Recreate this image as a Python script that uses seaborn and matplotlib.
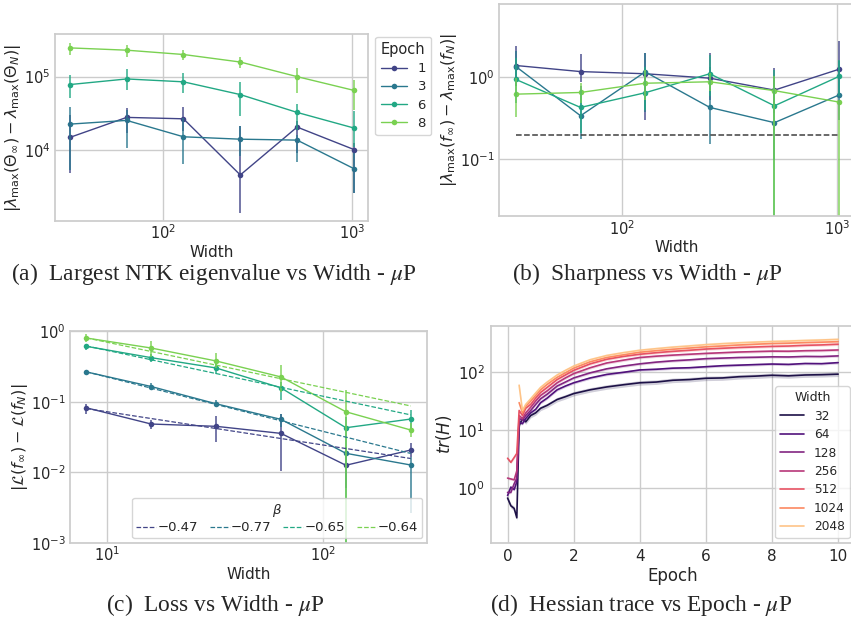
import numpy as np
import pandas as pd
import seaborn as sns
import matplotlib.pyplot as plt

# (a) |lambda_max(Theta_inf) - lambda_max(Theta_N)| vs width, one row per epoch
widths_a = [32, 64, 128, 256, 512, 1024]
epochs_a = ["1", "3", "6", "8"]
ntk_mean = [
    [1.49e4, 2.79e4, 2.67e4, 4.6e3, 2.06e4, 1.02e4],
    [2.26e4, 2.54e4, 1.52e4, 1.41e4, 1.37e4, 5.6e3],
    [7.8e4, 9.3e4, 8.5e4, 5.7e4, 3.26e4, 2.0e4],
    [2.46e5, 2.29e5, 2.0e5, 1.58e5, 1.0e5, 6.5e4],
]
ntk_lo = [
    [4.95e3, 1.71e4, 1.8e4, 1.41e3, 9.1e3, 2.6e3],
    [5.4e3, 1.06e4, 6.5e3, 8.2e3, 7.0e3, 2.65e3],
    [5.1e4, 6.5e4, 5.9e4, 2.94e4, 1.9e4, 1.12e4],
    [2.0e5, 1.85e5, 1.67e5, 1.31e5, 6.0e4, 3.55e4],
]
ntk_hi = [
    [3.03e4, 3.74e4, 3.86e4, 2.15e4, 2.46e4, 1.25e4],
    [3.9e4, 3.55e4, 2.73e4, 2.15e4, 1.62e4, 9.1e3],
    [1.06e5, 1.28e5, 1.12e5, 8.55e4, 4.3e4, 3.4e4],
    [2.88e5, 2.73e5, 2.33e5, 1.85e5, 1.31e5, 9.1e4],
]

# (b) sharpness gap vs width
sharp_mean = [
    [1.40, 1.18, 1.11, 0.98, 0.70, 1.26],
    [1.36, 0.34, 1.17, 0.43, 0.28, 0.61],
    [0.945, 0.43, 0.65, 1.11, 0.45, 1.03],
    [0.625, 0.655, 0.85, 0.885, 0.69, 0.50],
]
sharp_lo = [
    [0.776, 0.87, 0.30, 0.53, 0.366, 0.585],
    [0.776, 0.176, 0.38, 0.154, 0.098, 0.30],
    [0.485, 0.21, 0.40, 0.585, 0.001, 0.585],
    [0.33, 0.485, 0.53, 0.675, 0.001, 0.001],
]
sharp_hi = [
    [2.4, 1.95, 1.99, 1.99, 1.3, 2.76],
    [2.08, 0.776, 1.99, 1.36, 0.94, 1.57],
    [1.72, 0.71, 1.36, 1.9, 1.24, 1.65],
    [0.98, 0.85, 1.24, 1.13, 1.03, 0.53],
]
sharp_ref = 0.2

# (c) loss gap vs width, plus power-law fits
widths_c = [8, 16, 32, 64, 128, 256]
loss_mean = [
    [0.082, 0.0483, 0.0448, 0.0356, 0.0126, 0.0207],
    [0.264, 0.164, 0.0934, 0.0562, 0.0186, 0.0127],
    [0.608, 0.42, 0.30, 0.157, 0.0428, 0.0568],
    [0.797, 0.575, 0.377, 0.224, 0.072, 0.0397],
]
loss_lo = [
    [0.068, 0.0406, 0.0269, 0.0103, 0.006, 0.0167],
    [0.245, 0.149, 0.083, 0.0443, 0.0135, 0.00265],
    [0.545, 0.366, 0.25, 0.105, 0.0001, 0.042],
    [0.70, 0.43, 0.304, 0.138, 0.0001, 0.032],
]
loss_hi = [
    [0.094, 0.055, 0.0626, 0.068, 0.02, 0.0258],
    [0.285, 0.181, 0.105, 0.068, 0.023, 0.0167],
    [0.663, 0.48, 0.346, 0.19, 0.0612, 0.076],
    [0.917, 0.715, 0.49, 0.328, 0.146, 0.0493],
]
fit_labels = ["\u22120.47", "\u22120.77", "\u22120.65", "\u22120.64"]
fit_start = [0.080, 0.265, 0.615, 0.80]
fit_end = [0.0157, 0.0185, 0.065, 0.087]

# (d) Hessian trace vs epoch, one row per width
hess_widths = ["32", "64", "128", "256", "512", "1024", "2048"]
hess_epochs = [0, 0.1, 0.2, 0.28, 0.35, 0.45, 0.55, 0.7, 0.85, 1.0, 1.2, 1.5, 1.75, 2,
               2.5, 3, 3.5, 4, 4.5, 5, 5.5, 6, 6.5, 7, 7.5, 8, 8.5, 9, 9.5, 10]
nan = np.nan
hess_trace = [
    [0.68, 0.5, 0.45, 0.31, 12, 16, 14, 18, 20, 24, 27, 34, 38, 43, 50, 56, 61, 66, 68,
     73, 75, 79, 80, 84, 86, 89, 87, 90, 91, 93],
    [0.75, 1.05, 0.95, 1.3, 14, 13, 16, 20, 23, 30, 36, 50, 58, 66, 80, 92, 100, 110, 113,
     118, 120, 125, 130, 133, 136, 139, 137, 142, 141, 147],
    [0.85, 0.85, 1.2, 1.5, 16, 15, 18, 22, 28, 35, 42, 58, 68, 80, 98, 115, 128, 140, 150,
     158, 164, 172, 176, 180, 182, 185, 184, 188, 187, 192],
    [1.5, 1.45, 1.4, 2.0, 18, 16, 20, 25, 32, 40, 48, 66, 80, 95, 120, 145, 162, 180, 190,
     198, 205, 212, 218, 224, 228, 232, 231, 236, 238, 243],
    [3.3, 2.8, 3.4, 4.0, 22, 18, 24, 28, 36, 45, 55, 75, 90, 108, 140, 168, 188, 205, 218,
     230, 240, 252, 260, 268, 274, 280, 284, 292, 297, 305],
    [nan, nan, nan, nan, 30, 20, 26, 32, 40, 50, 62, 82, 98, 118, 152, 180, 200, 222, 236,
     250, 262, 275, 285, 296, 305, 314, 318, 326, 331, 338],
    [nan, nan, nan, nan, 60, 22, 28, 35, 44, 55, 68, 90, 108, 128, 165, 195, 218, 240, 256,
     272, 285, 300, 312, 323, 332, 340, 346, 354, 361, 370],
]
hess_spread = [0.09, 0.05, 0.05, 0.05, 0.05, 0.06, 0.07]


def long_frame(x, levels, rows, xname, hname):
    recs = []
    for lev, row in zip(levels, rows):
        for xv, yv in zip(x, row):
            recs.append({xname: xv, hname: lev, "value": yv})
    return pd.DataFrame(recs).dropna()


def width_panel(ax, x, mean, lo, hi, pal, legend):
    df = long_frame(x, epochs_a, mean, "Width", "Epoch")
    sns.lineplot(data=df, x="Width", y="value", hue="Epoch", hue_order=epochs_a,
                 palette=pal, marker="o", markersize=4, markeredgewidth=0,
                 linewidth=1.0, errorbar=None, legend=legend, ax=ax)
    for c, l, h in zip(pal, lo, hi):
        ax.vlines(x, l, h, color=c, lw=1.2, alpha=0.85)
    ax.set_xscale("log")
    ax.set_yscale("log")
    ax.set_xlabel("Width")


sns.set_theme(style="whitegrid")
plt.rcParams["font.family"] = ["DejaVu Sans"]
plt.rcParams["xtick.labelsize"] = 10.5
plt.rcParams["ytick.labelsize"] = 10.5
plt.rcParams["axes.labelsize"] = 11
plt.rcParams["xtick.major.size"] = 0
plt.rcParams["ytick.major.size"] = 0
plt.rcParams["xtick.minor.size"] = 0
plt.rcParams["ytick.minor.size"] = 0
plt.rcParams["xtick.major.pad"] = 2
plt.rcParams["ytick.major.pad"] = 3
plt.rcParams["axes.labelpad"] = 2

fig = plt.figure(figsize=(8.51, 6.24), dpi=100)
pal4 = sns.color_palette("viridis", 4)

# (a)
ax_a = fig.add_axes([0.0646, 0.6458, 0.3678, 0.2997])
width_panel(ax_a, widths_a, ntk_mean, ntk_lo, ntk_hi, pal4, True)
ax_a.set_ylim(1087, 3.8e5)
ax_a.set_xlim(26.7, 1215)
ax_a.set_ylabel(r"$|\lambda_{\max}(\Theta_\infty) - \lambda_{\max}(\Theta_N)|$",
                fontsize=11.5, labelpad=0.5)
sns.move_legend(ax_a, "upper left", bbox_to_anchor=(1.015, 1.0), borderaxespad=0.2,
                title="Epoch", fontsize=9.5, title_fontsize=10.5, labelspacing=0.4)

# (b)
ax_b = fig.add_axes([0.5864, 0.6538, 0.4183, 0.3397])
width_panel(ax_b, widths_a, sharp_mean, sharp_lo, sharp_hi, pal4, False)
ax_b.hlines(sharp_ref, widths_a[0], widths_a[-1], color="0.25", ls="--", lw=1.1)
ax_b.set_ylim(0.0202, 7.9)
ax_b.set_xlim(26.7, 1215)
ax_b.set_ylabel(r"$|\lambda_{\max}(f_\infty) - \lambda_{\max}(f_N)|$",
                fontsize=11.5, labelpad=0.5)

# (c)
ax_c = fig.add_axes([0.0823, 0.1298, 0.4195, 0.3397])
df_c = long_frame(widths_c, epochs_a, loss_mean, "Width", "Epoch")
sns.lineplot(data=df_c, x="Width", y="value", hue="Epoch", hue_order=epochs_a,
             palette=pal4, marker="o", markersize=4, markeredgewidth=0,
             linewidth=1.0, errorbar=None, legend=False, ax=ax_c)
for c, l, h in zip(pal4, loss_lo, loss_hi):
    ax_c.vlines(widths_c, l, h, color=c, lw=1.2, alpha=0.85)
fit_rows = [[s, e] for s, e in zip(fit_start, fit_end)]
df_fit = long_frame([widths_c[0], widths_c[-1]], fit_labels, fit_rows, "Width", "beta")
sns.lineplot(data=df_fit, x="Width", y="value", hue="beta", hue_order=fit_labels,
             palette=pal4, linestyle="--", linewidth=0.9, errorbar=None, legend=False,
             ax=ax_c)
ax_c.set_xscale("log")
ax_c.set_yscale("log")
ax_c.set_ylim(1e-3, 1)
ax_c.set_xlabel("Width")
ax_c.set_ylabel(r"$|\mathcal{L}(f_\infty) - \mathcal{L}(f_N)|$", fontsize=11.5, labelpad=0.5)
ax_c.legend(ax_c.lines[-4:], fit_labels, title=r"$\beta$", ncol=4, loc="lower right",
            fontsize=9.5, title_fontsize=9.5, handlelength=1.5, handletextpad=0.1,
            columnspacing=0.9, borderaxespad=0.35, borderpad=0.3, labelspacing=0.2)

# (d)
ax_d = fig.add_axes([0.5770, 0.1298, 0.4273, 0.3478])
pal7 = sns.color_palette("magma", 7)
df_d = long_frame(hess_epochs, hess_widths, hess_trace, "Epoch", "Width")
sns.lineplot(data=df_d, x="Epoch", y="value", hue="Width", hue_order=hess_widths,
             palette=pal7, linewidth=1.2, errorbar=None, ax=ax_d)
for c, w, s in zip(pal7, hess_widths, hess_spread):
    sub = df_d[df_d["Width"] == w]
    ax_d.fill_between(sub["Epoch"], sub["value"] * (1 - s), sub["value"] * (1 + s),
                      color=c, alpha=0.2, lw=0)
ax_d.set_yscale("log")
ax_d.set_ylim(0.114, 630)
ax_d.set_xlim(-0.5, 10.5)
ax_d.set_xlabel("Epoch", fontsize=12)
ax_d.set_ylabel(r"$tr(H)$", fontsize=12)
ax_d.tick_params(labelsize=11, pad=4.5)
sns.move_legend(ax_d, "lower right", title="Width", fontsize=8.7, title_fontsize=9,
                labelspacing=0.45, borderaxespad=0.4)

# sub-figure captions
cap = dict(ha="center", va="center", fontsize=16.8, family="Liberation Serif",
           math_fontfamily="stix")
fig.text(214 / 851, 1 - 274 / 624, r"(a)  Largest NTK eigenvalue vs Width - $\mu$P", **cap)
fig.text(647 / 851, 1 - 274 / 624, r"(b)  Sharpness vs Width - $\mu$P", **cap)
fig.text(215 / 851, 1 - 605 / 624, r"(c)  Loss vs Width - $\mu$P", **cap)
fig.text(641 / 851, 1 - 605 / 624, r"(d)  Hessian trace vs Epoch - $\mu$P", **cap)

fig.savefig("out.png", dpi=100)
